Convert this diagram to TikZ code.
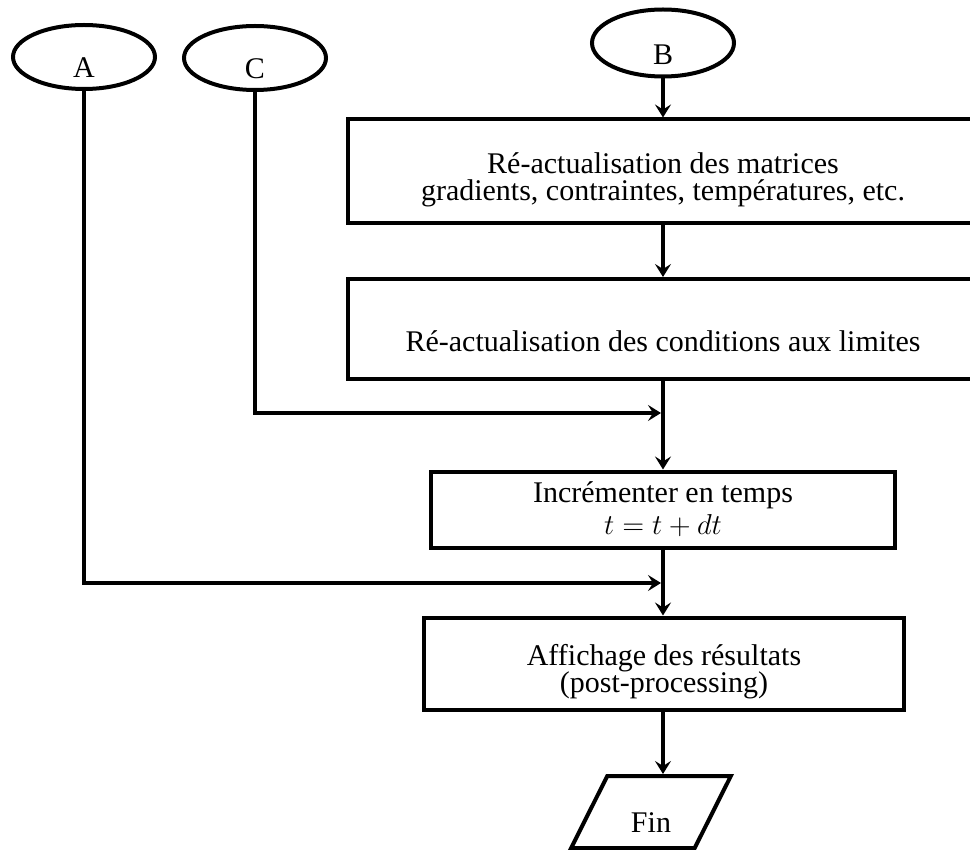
\documentclass[tikz,border=0pt]{standalone}
\usepackage[no-math]{fontspec}
\setmainfont{Liberation Serif}
\usetikzlibrary{shapes.geometric,arrows.meta}
\setlength{\lineskiplimit}{-50pt}
\newcommand{\haut}[1]{\rule{0pt}{#1}}

\begin{document}
\begin{tikzpicture}[x=0.5pt,y=-0.5pt,line width=2pt,
	every node/.style={font=\fontsize{15}{11}\selectfont},
	etape/.style={draw,rectangle,align=center,inner sep=0pt},
	bulle/.style={draw,ellipse,inner sep=0pt,minimum width=71pt,minimum height=32pt},
	sortie/.style={draw,trapezium,trapezium left angle=68,trapezium right angle=112,trapezium stretches=true,minimum width=80pt,minimum height=36pt,inner sep=0pt},
	fleche/.style={-{Stealth[length=6.5pt,width=8pt,inset=2.5pt]}}]
	\clip (0,0) rectangle (970,850);
	\node[bulle] (A) at (84,57) {\haut{21pt}A};
	\node[bulle] (C) at (255,58) {\haut{21pt}C};
	\node[bulle,minimum height=33.5pt] (B) at (663,43) {\haut{22pt}B};
	\node[etape,minimum width=315pt,minimum height=52pt] (maj) at (663,171.5) {\haut{19pt}Ré-actualisation des matrices\\[2.5pt]gradients, contraintes, températures, etc.};
	\node[etape,minimum width=315pt,minimum height=50pt] (cl) at (663,329) {\haut{22.5pt}Ré-actualisation des conditions aux limites};
	\node[etape,minimum width=232pt,minimum height=38pt] (inc) at (663,509.5) {Incrémenter en temps\\[5pt]$t=t+dt$};
	\node[etape,minimum width=240pt,minimum height=46pt] (aff) at (664,663.5) {\haut{19pt}Affichage des résultats\\[2.5pt](post-processing)};
	\node[sortie] (fin) at (651,812) {\haut{20.5pt}Fin};
	\coordinate (jc) at (663,413);
	\coordinate (ja) at (663,583);
	\draw[fleche] (B.south) -- (maj.north);
	\draw[fleche] (maj.south) -- (cl.north);
	\draw[fleche] (cl.south) -- (inc.north);
	\draw[fleche] (inc.south) -- (inc.south |- aff.north);
	\draw[fleche] (inc.south |- aff.south) -- (inc.south |- fin.north);
	\draw[fleche,shorten >=1pt] (C.south) |- (jc);
	\draw[fleche,shorten >=1pt] (A.south) |- (ja);
\end{tikzpicture}
\end{document}
